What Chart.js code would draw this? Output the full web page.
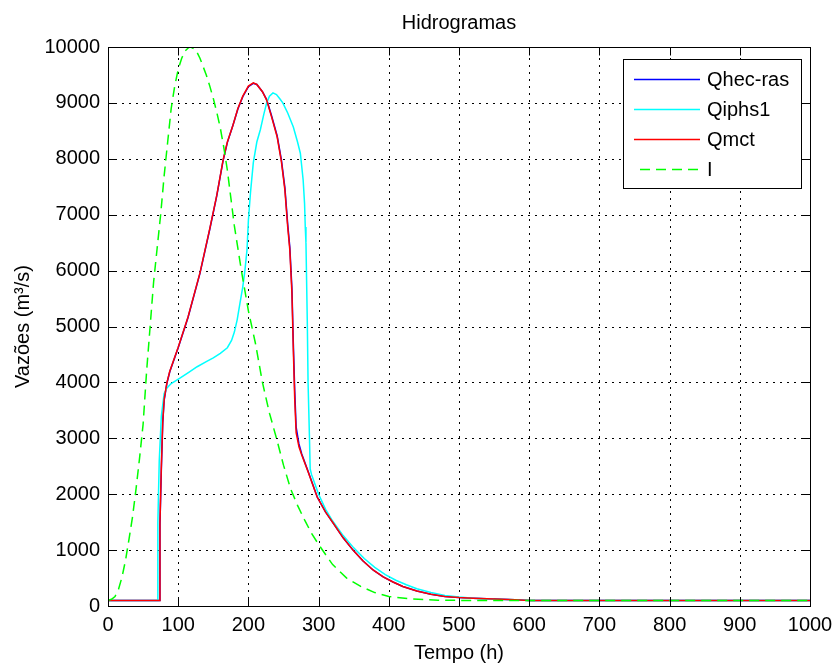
<!DOCTYPE html>
<html>
<head>
<meta charset="utf-8">
<script src="https://cdn.jsdelivr.net/npm/chart.js@4/dist/chart.umd.min.js"></script>
<style>
  html, body { margin: 0; padding: 0; background: #fff; }
  #wrap { width: 835px; height: 666px; }
</style>
</head>
<body>
<div id="wrap"><canvas id="c" width="835" height="666"></canvas></div>
<script>
// ---- Data ----
const chartTitle = 'Hidrogramas';
const xTitle = 'Tempo (h)';
const yTitle = 'Vazões (m³/s)';
const seriesNames = ['Qhec-ras', 'Qiphs1', 'Qmct', 'I'];

const tMct = [0, 73, 74, 76, 78, 80, 84, 88, 100, 114, 131, 145, 155, 164, 170, 178, 185, 192, 200, 207, 212, 220, 226, 233, 241, 247, 252, 256, 259, 262, 264, 266, 268, 272, 276, 285, 298, 310, 321, 335, 349, 363, 378, 392, 406, 420, 440, 460, 480, 500, 520, 540, 560, 580, 600, 1000];
const qMct = [100, 100, 1500, 2500, 3300, 3700, 4000, 4200, 4630, 5170, 5960, 6750, 7350, 7980, 8300, 8600, 8900, 9120, 9300, 9360, 9330, 9200, 9050, 8750, 8390, 7950, 7440, 6780, 6370, 5600, 4580, 3700, 3100, 2850, 2700, 2400, 1950, 1680, 1480, 1220, 1000, 810, 640, 520, 430, 350, 270, 210, 170, 150, 140, 130, 120, 110, 100, 100];

const tHecRas = [0, 73, 74, 76, 78, 80, 84, 88, 100, 114, 131, 145, 155, 164, 170, 178, 185, 192, 200, 207, 212, 220, 226, 233, 241, 247, 252, 256, 259, 262, 264, 266, 268, 272, 276, 285, 298, 310, 321, 335, 349, 363, 378, 392, 406, 420, 440, 460, 480, 500, 520, 540, 560, 580, 600, 1000];
const qHecRas = [100, 100, 1450, 2450, 3280, 3680, 3990, 4190, 4620, 5160, 5950, 6740, 7340, 7970, 8290, 8600, 8890, 9110, 9290, 9350, 9330, 9200, 9060, 8770, 8410, 7980, 7480, 6830, 6420, 5680, 4700, 3850, 3200, 2900, 2720, 2410, 1950, 1680, 1480, 1220, 1000, 810, 640, 520, 430, 350, 270, 210, 170, 150, 140, 130, 120, 110, 100, 100];

const tIphs1 = [0, 70, 71, 73, 76, 80, 84, 90, 103, 115, 127, 140, 150, 160, 170, 176, 180, 184, 188, 192, 195, 198, 200, 203, 207, 212, 217, 222, 226, 230, 235, 240, 245, 249, 256, 264, 270, 274, 278, 280, 281, 282, 284, 285, 287, 288, 290, 300, 310, 320, 335, 350, 365, 380, 395, 410, 425, 440, 460, 480, 500, 520, 550, 580, 600, 1000];
const qIphs1 = [100, 100, 1500, 2600, 3400, 3800, 3900, 3980, 4080, 4180, 4280, 4370, 4440, 4520, 4620, 4750, 4900, 5120, 5420, 5710, 6000, 6370, 6900, 7400, 7930, 8300, 8520, 8800, 9000, 9120, 9180, 9150, 9070, 9000, 8820, 8570, 8300, 8100, 7620, 7200, 6780, 6500, 5000, 4000, 3000, 2450, 2350, 2000, 1730, 1520, 1260, 1040, 850, 690, 560, 460, 380, 310, 240, 190, 160, 140, 120, 110, 100, 100];

const tInflow = [0, 5, 10, 15, 20, 25, 30, 35, 40, 45, 50, 55, 60, 65, 70, 75, 80, 85, 90, 95, 100, 105, 110, 115, 118, 125, 131, 140, 145, 150, 155, 160, 165, 170, 175, 180, 190, 200, 210, 220, 230, 240, 250, 260, 270, 280, 290, 300, 320, 340, 360, 380, 400, 430, 470, 500, 1000];
const qInflow = [100, 120, 170, 300, 520, 820, 1200, 1600, 2100, 2650, 3250, 4200, 5000, 5800, 6400, 7000, 7700, 8300, 8900, 9300, 9600, 9800, 9930, 9990, 10000, 9950, 9800, 9500, 9300, 9080, 8830, 8550, 8200, 7800, 7300, 6800, 6000, 5280, 4700, 4000, 3450, 3000, 2520, 2100, 1800, 1540, 1300, 1100, 740, 500, 350, 240, 170, 130, 105, 100, 100];

const xMin = 0, xMax = 1000, xStep = 100;
const yMin = 0, yMax = 10000, yStep = 1000;

function pts(t, q) { return t.map((v, i) => ({ x: v, y: q[i] })); }

const FONT = '"Liberation Sans", Arial, sans-serif';

const matlabPlugin = {
  id: 'matlabLook',
  beforeDatasetsDraw(chart) {
    const { ctx, chartArea: a, scales } = chart;
    ctx.save();
    ctx.strokeStyle = '#000';
    ctx.lineWidth = 1;
    ctx.setLineDash([2, 5]);
    scales.x.ticks.forEach(t => {
      const px = Math.round(scales.x.getPixelForValue(t.value)) + 0.5;
      if (t.value === xMin || t.value === xMax) return;
      ctx.beginPath(); ctx.moveTo(px, a.bottom); ctx.lineTo(px, a.top); ctx.stroke();
    });
    scales.y.ticks.forEach(t => {
      const py = Math.round(scales.y.getPixelForValue(t.value)) + 0.5;
      if (t.value === yMin || t.value === yMax) return;
      ctx.beginPath(); ctx.moveTo(a.left, py); ctx.lineTo(a.right, py); ctx.stroke();
    });
    ctx.restore();
  },
  afterDatasetsDraw(chart) {
    const { ctx, chartArea: a, scales } = chart;
    ctx.save();
    ctx.strokeStyle = '#000';
    ctx.lineWidth = 1;
    ctx.setLineDash([]);
    const L = Math.round(a.left) + 0.5, R = Math.round(a.right) + 0.5;
    const T = Math.round(a.top) + 0.5, B = Math.round(a.bottom) + 0.5;
    ctx.strokeRect(L, T, R - L, B - T);
    const tl = 8;
    scales.x.ticks.forEach(t => {
      const px = Math.round(scales.x.getPixelForValue(t.value)) + 0.5;
      ctx.beginPath();
      ctx.moveTo(px, B); ctx.lineTo(px, B - tl);
      ctx.moveTo(px, T); ctx.lineTo(px, T + tl);
      ctx.stroke();
    });
    scales.y.ticks.forEach(t => {
      const py = Math.round(scales.y.getPixelForValue(t.value)) + 0.5;
      ctx.beginPath();
      ctx.moveTo(L, py); ctx.lineTo(L + tl, py);
      ctx.moveTo(R, py); ctx.lineTo(R - tl, py);
      ctx.stroke();
    });

    // Titles
    ctx.fillStyle = '#000';
    ctx.font = '20px ' + FONT;
    ctx.textAlign = 'center';
    ctx.textBaseline = 'alphabetic';
    ctx.fillText(chartTitle, (a.left + a.right) / 2, 29);
    ctx.fillText(xTitle, (a.left + a.right) / 2, 659);
    ctx.save();
    ctx.translate(29, (a.top + a.bottom) / 2);
    ctx.rotate(-Math.PI / 2);
    ctx.fillText(yTitle, 0, 0);
    ctx.restore();

    // Legend box
    const bx = 623.5, by = 59.5, bw = 178, bh = 129;
    ctx.fillStyle = '#fff';
    ctx.fillRect(bx, by, bw, bh);
    ctx.strokeStyle = '#000';
    ctx.strokeRect(bx, by, bw, bh);
    ctx.font = '20px ' + FONT;
    ctx.textAlign = 'left';
    ctx.textBaseline = 'middle';
    const rows = [79, 109, 139, 169];
    chart.data.datasets.forEach((ds, i) => {
      const y = rows[i] + 0.5;
      ctx.strokeStyle = ds.borderColor;
      ctx.lineWidth = 1.5;
      ctx.setLineDash(ds.borderDash || []);
      ctx.beginPath();
      ctx.moveTo(ds.borderDash ? 640 : 634, y); ctx.lineTo(700, y); ctx.stroke();
      ctx.setLineDash([]);
      ctx.fillStyle = '#000';
      ctx.fillText(ds.label, 707, rows[i] + 1);
    });
    ctx.restore();
  }
};

new Chart(document.getElementById('c'), {
  type: 'line',
  data: {
    datasets: [
      { label: seriesNames[0], data: pts(tHecRas, qHecRas), borderColor: '#0000ff', order: 4 },
      { label: seriesNames[1], data: pts(tIphs1, qIphs1), borderColor: '#00ffff', order: 3 },
      { label: seriesNames[2], data: pts(tMct, qMct), borderColor: '#ff0000', order: 2 },
      { label: seriesNames[3], data: pts(tInflow, qInflow), borderColor: '#00ff00', borderDash: [10, 6], order: 1 }
    ]
  },
  options: {
    responsive: false,
    animation: false,
    events: [],
    layout: { padding: { top: 47, right: 25, left: 0, bottom: 0 } },
    elements: {
      point: { radius: 0 },
      line: { borderWidth: 1.5, tension: 0, fill: false }
    },
    plugins: { legend: { display: false }, title: { display: false }, tooltip: { enabled: false } },
    scales: {
      x: {
        type: 'linear', min: xMin, max: xMax,
        grid: { display: false, drawTicks: false },
        border: { display: false },
        ticks: { stepSize: xStep, color: '#000', font: { family: FONT, size: 20 }, padding: 7, maxRotation: 0, callback: v => String(v) },
        afterFit(s) { s.height = 60; s.paddingLeft = 0; s.paddingRight = 0; }
      },
      y: {
        type: 'linear', min: yMin, max: yMax,
        grid: { display: false, drawTicks: false },
        border: { display: false },
        ticks: { stepSize: yStep, color: '#000', font: { family: FONT, size: 20 }, padding: 8, callback: v => String(v) },
        afterFit(s) { s.width = 108; s.paddingTop = 0; s.paddingBottom = 0; }
      }
    }
  },
  plugins: [matlabPlugin]
});
</script>
</body>
</html>
